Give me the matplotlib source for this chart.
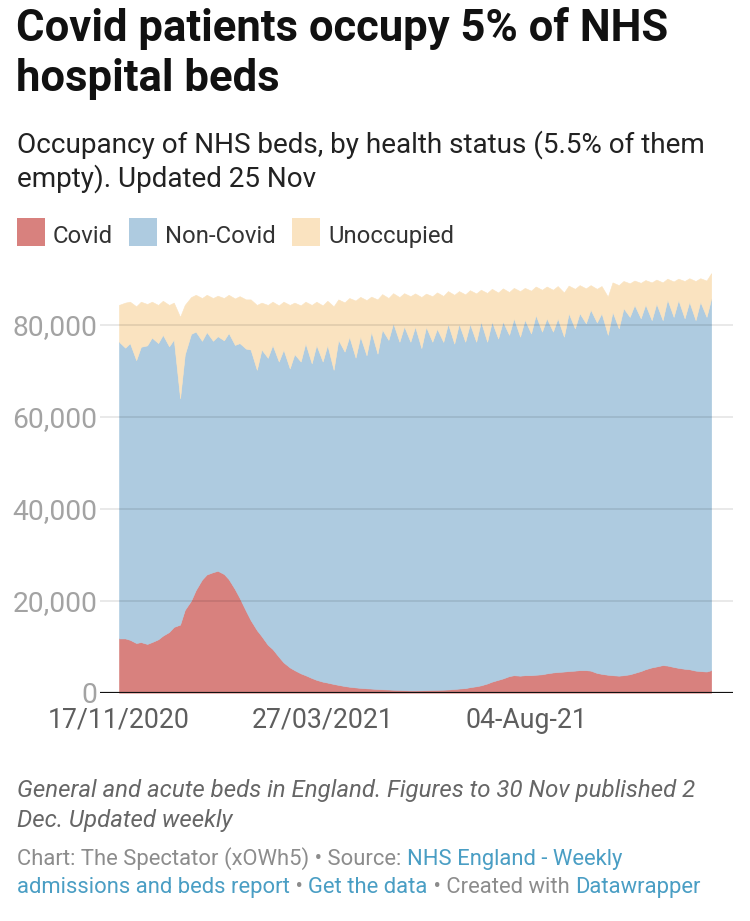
import numpy as np
import pandas as pd
import matplotlib
matplotlib.use("Agg")
import matplotlib.pyplot as plt
import matplotlib.dates as mdates
from matplotlib.patches import Rectangle

plt.rcParams['font.family'] = ['Roboto', 'DejaVu Sans']

W, H = 750, 921

# samples: every Tuesday (weekday high) and Saturday (weekend low),
# 17 Nov 2020 .. 30 Nov 2021, values in thousands of beds
days = pd.date_range("2020-11-17", "2021-11-30")
dates = days[days.dayofweek.isin([1, 5])]

covid_k = [
    11.8, 11.8, 11.5, 10.8, 11.0, 10.6, 11.0, 11.6, 12.4, 13.2,
    14.3, 14.8, 18.0, 20.0, 22.3, 24.6, 25.7, 26.2, 26.5, 25.8,
    24.7, 22.5, 20.6, 17.8, 15.8, 13.6, 12.3, 10.4, 9.5, 7.8,
    6.6, 5.5, 4.9, 4.2, 3.8, 3.2, 2.8, 2.4, 2.2, 1.9,
    1.7, 1.45, 1.3, 1.15, 1.05, 0.95, 0.9, 0.8, 0.75, 0.7,
    0.65, 0.6, 0.55, 0.5, 0.5, 0.52, 0.55, 0.6, 0.62, 0.66,
    0.7, 0.8, 0.9, 1.0, 1.2, 1.4, 1.6, 2.0, 2.4, 2.8,
    3.1, 3.6, 3.8, 3.7, 3.8, 3.8, 3.9, 4.0, 4.2, 4.4,
    4.5, 4.6, 4.7, 4.8, 4.9, 4.9, 4.8, 4.3, 4.1, 3.9,
    3.8, 3.7, 3.8, 4.0, 4.3, 4.7, 5.1, 5.5, 5.7, 6.0,
    5.9, 5.6, 5.4, 5.2, 5.1, 4.8, 4.7, 4.6, 4.9,
]

non_covid_k = [
    64.5, 63.2, 64.5, 61.5, 64.2, 64.9, 66.2, 64.4, 65.4, 62.1,
    62.5, 49.2, 55.5, 58.0, 56.2, 51.9, 52.7, 50.3, 51.0, 50.8,
    53.5, 53.1, 55.4, 57.0, 58.8, 56.6, 62.3, 62.4, 66.1, 64.2,
    68.0, 65.0, 68.7, 67.8, 72.2, 68.4, 72.8, 69.6, 73.4, 68.3,
    75.0, 72.7, 76.1, 71.7, 76.4, 72.4, 77.6, 72.9, 78.2, 76.0,
    79.7, 75.7, 79.1, 75.8, 79.1, 74.4, 79.0, 75.7, 78.5, 75.6,
    79.5, 75.1, 79.3, 75.3, 79.0, 74.9, 79.1, 74.3, 78.3, 74.2,
    77.6, 74.2, 77.6, 73.7, 77.3, 74.3, 78.2, 74.5, 77.2, 74.1,
    76.9, 72.8, 77.8, 74.4, 77.6, 75.4, 78.5, 76.2, 78.4, 73.9,
    79.0, 75.5, 79.8, 77.7, 80.0, 76.7, 79.3, 75.5, 78.9, 75.0,
    79.6, 76.1, 80.0, 76.2, 79.9, 76.2, 80.3, 77.1, 80.8,
]

unoccupied_k = [
    8.0, 9.8, 9.0, 11.7, 9.8, 9.0, 7.8, 8.3, 7.4, 9.0,
    8.0, 17.7, 10.8, 8.0, 8.0, 9.3, 8.1, 9.3, 8.8, 9.2,
    8.3, 10.1, 10.2, 10.7, 10.9, 14.1, 10.2, 11.5, 9.4, 12.2,
    10.4, 13.8, 11.2, 12.2, 9.0, 12.7, 9.4, 12.2, 9.6, 13.8,
    8.8, 10.7, 8.4, 12.4, 8.6, 12.0, 7.6, 11.8, 7.7, 9.1,
    6.5, 9.7, 7.2, 9.9, 7.2, 11.1, 7.2, 9.9, 7.9, 10.0,
    7.1, 10.6, 7.1, 10.3, 7.3, 10.5, 6.9, 10.6, 7.1, 10.0,
    7.2, 9.3, 6.6, 9.9, 6.9, 9.3, 6.2, 9.1, 6.9, 9.1,
    7.0, 9.6, 6.0, 8.6, 6.1, 7.6, 5.3, 7.3, 5.9, 8.3,
    6.4, 9.4, 5.9, 7.3, 5.3, 7.7, 5.3, 8.2, 5.2, 8.2,
    4.5, 7.7, 4.6, 8.1, 5.1, 8.5, 5.1, 7.9, 5.5,
]

series_names = ["Covid", "Non-Covid", "Unoccupied"]
series_colors = ["#d8817e", "#aecbe0", "#fae3c0"]

y_ticks = [0, 20000, 40000, 60000, 80000]
x_tick_dates = ["2020-11-17", "2021-03-27", "2021-08-04"]
x_tick_labels = ["17/11/2020", "27/03/2021", "04-Aug-21"]

covid = np.array(covid_k) * 1000
non_covid = np.array(non_covid_k) * 1000
unoccupied = np.array(unoccupied_k) * 1000


def fx(px):
    return px / W


def fy(px):
    return 1 - px / H


fig = plt.figure(figsize=(W / 100, H / 100), dpi=100)
fig.patch.set_facecolor("white")

# plot area in pixels: x 100..733, y 269.5..692.7
ax = fig.add_axes([fx(100), fy(692.7), (733 - 100) / W, (692.7 - 269.5) / H])
polys = ax.stackplot(dates, covid, non_covid, unoccupied, colors=series_colors)
for p, c in zip(polys, series_colors):
    p.set_edgecolor(c)
    p.set_linewidth(0.4)

ax.set_ylim(0, 92000)
start, end = dates[0], dates[-1]
ax.set_xlim(start - pd.Timedelta(days=12.1), end + pd.Timedelta(days=13.9))

ax.set_yticks(y_ticks)
ax.set_yticklabels([f"{v:,}" for v in y_ticks])
ax.set_xticks([mdates.date2num(pd.Timestamp(d)) for d in x_tick_dates])
ax.set_xticklabels(x_tick_labels)
ax.tick_params(axis="y", length=0, pad=2, labelsize=20.3, labelcolor="#a3a3a3")
ax.tick_params(axis="x", length=0, pad=10, labelsize=19.2, labelcolor="#5e5e5e")

ax.yaxis.grid(True, color="black", alpha=0.1, linewidth=1.2)
ax.set_axisbelow(False)
for s in ax.spines.values():
    s.set_visible(False)
ax.axhline(0, color="#111111", linewidth=2.3, zorder=3)

# title and subtitle
fig.text(fx(16), fy(41), "Covid patients occupy 5% of NHS", fontsize=31.4,
         fontweight="bold", color="#111111", va="baseline")
fig.text(fx(16), fy(91), "hospital beds", fontsize=31.4,
         fontweight="bold", color="#111111", va="baseline")
fig.text(fx(17), fy(153), "Occupancy of NHS beds, by health status (5.5% of them",
         fontsize=20.1, color="#222222", va="baseline")
fig.text(fx(17), fy(187), "empty). Updated 25 Nov",
         fontsize=20.1, color="#222222", va="baseline")

# legend
legend_x = [17, 129, 292]
for lx, name, col in zip(legend_x, series_names, series_colors):
    fig.patches.append(Rectangle((fx(lx), fy(246)), 28 / W, 28 / H,
                                 transform=fig.transFigure, facecolor=col,
                                 edgecolor="none"))
    fig.text(fx(lx + 36), fy(243), name, fontsize=17.2, color="#333333",
             va="baseline")

# notes
fig.text(fx(17), fy(797), "General and acute beds in England. Figures to 30 Nov published 2",
         fontsize=17.3, style="italic", color="#666666", va="baseline")
fig.text(fx(17), fy(827), "Dec. Updated weekly",
         fontsize=17.3, style="italic", color="#666666", va="baseline")

renderer = fig.canvas.get_renderer()
grey, link = "#8c8c8c", "#4a9ec4"


def rich_line(y_px, parts, size=15.8):
    x = fx(17)
    for txt, col in parts:
        t = fig.text(x, fy(y_px), txt, fontsize=size, color=col, va="baseline")
        x += t.get_window_extent(renderer).width / fig.bbox.width


rich_line(865, [("Chart: The Spectator (xOWh5) \u2022 Source: ", grey),
                ("NHS England - Weekly", link)])
rich_line(893, [("admissions and beds report", link), (" \u2022 ", grey),
                ("Get the data", link), (" \u2022 Created with ", grey),
                ("Datawrapper", link)])

fig.savefig("out.png", dpi=100)
